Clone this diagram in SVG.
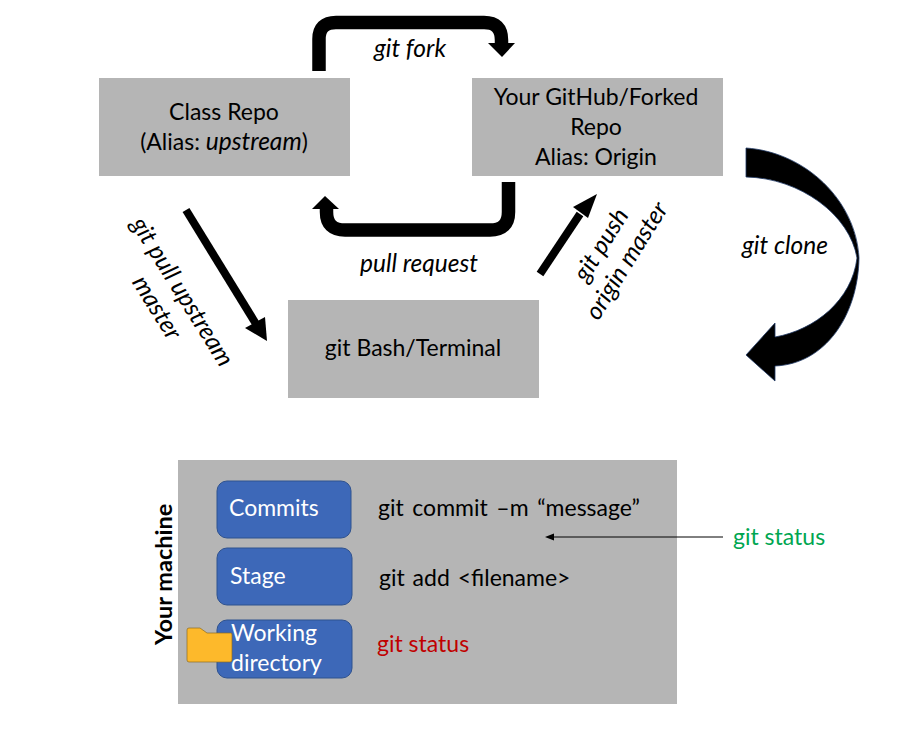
<svg xmlns="http://www.w3.org/2000/svg" width="901" height="729" viewBox="0 0 901 729">
<style>
text{font-family:Lato,"Liberation Sans",sans-serif;font-size:23px;fill:#000}
.c{text-anchor:middle}
.i{font-style:italic;font-size:24.500px}
.w{fill:#fff}
.g{fill:#b5b5b5}
.b{fill:#3d68b8;stroke:#2f528f;stroke-width:1}
.s{fill:none;stroke:#000;stroke-width:13.5}
</style>
<rect width="901" height="729" fill="#fff"/>
<g id="class-repo"><rect class="g" x="99" y="78" width="251" height="98"/>
<text class="c" x="224" y="120">Class Repo</text>
<text class="c" x="224" y="150">(Alias: <tspan class="i">upstream</tspan>)</text></g>
<g id="forked-repo"><rect class="g" x="472" y="78" width="251" height="98"/>
<text class="c" x="596" y="105">Your GitHub/Forked</text>
<text class="c" x="596" y="135">Repo</text>
<text class="c" x="596" y="165">Alias: Origin</text></g>
<g id="terminal"><rect class="g" x="288" y="300" width="251" height="98"/>
<text class="c" x="413" y="356">git Bash/Terminal</text></g>
<g id="machine"><rect class="g" x="178" y="460" width="499" height="244"/>
<text font-weight="700" transform="translate(172 645) rotate(-90)" style="font-size:23.500px">Your machine</text></g>
<g id="commits"><rect class="b" x="217" y="481" width="134" height="57" rx="10"/>
<text class="w" x="229" y="516">Commits</text></g>
<g id="stage"><rect class="b" x="217" y="548" width="135" height="57" rx="10"/>
<text class="w" x="230" y="584">Stage</text></g>
<g id="working-directory"><rect class="b" x="217" y="620" width="135" height="58" rx="10"/>
<text class="w" x="231" y="641">Working</text>
<text class="w" x="231" y="671">directory</text></g>
<g id="folder"><path d="M187 630Q187 628 189 628H200L207 633H231Q232 633 232 635V660Q232 662 230 662H189Q187 662 187 660Z" fill="#fdb92b" stroke="#8a6a20" stroke-width="0.7"/></g>
<g id="connectors">
<path class="s" d="M319 71V39Q319 22.500 336 22.500H484Q501.500 22.500 501.500 40V45"/>
<path d="M488 43H515L502 57Z"/>
<path class="s" d="M508.500 182V212Q508.500 230 490 230H345Q326.500 230 326.500 212V208"/>
<path d="M312 209H339L325 196Z"/>
<path d="M186 210L256 324" fill="none" stroke="#000" stroke-width="8"/>
<path d="M245 328L267 341L265 317Z"/>
<path d="M540 274L580 214" fill="none" stroke="#000" stroke-width="8"/>
<path d="M573 207L597 194L588 218Z"/>
<path d="M746 148C805 152 856 200 859 258C858 316 825 364 775 366V381L746 355L775 323V337C815 330 852 300 857 258C850 215 800 178 746 177Z" stroke="#1f3864" stroke-width="0.8"/>
<path d="M723 537H553" fill="none" stroke="#000" stroke-width="1"/>
<path d="M545 537L554 533.500V540.500Z"/>
</g>
<g id="labels">
<text class="c i" x="410" y="57">git fork</text>
<text class="c i" x="419" y="272">pull request</text>
<text class="c i" x="785" y="254">git clone</text>
<text class="c i" transform="translate(161 305) rotate(58)"><tspan x="0" y="-17">git pull upstream</tspan><tspan x="0" y="13">master</tspan></text>
<text class="c i" transform="translate(619 256) rotate(-58)"><tspan x="0" y="-13">git push</tspan><tspan x="0" y="17">origin master</tspan></text>
<text x="378" y="516" word-spacing="2.700">git commit –m “message”</text>
<text x="379" y="586" word-spacing="2">git add &lt;filename&gt;</text>
<text x="377" y="652" style="fill:#c00000">git status</text>
<text x="733" y="545" style="fill:#00a651">git status</text>
</g>
</svg>
